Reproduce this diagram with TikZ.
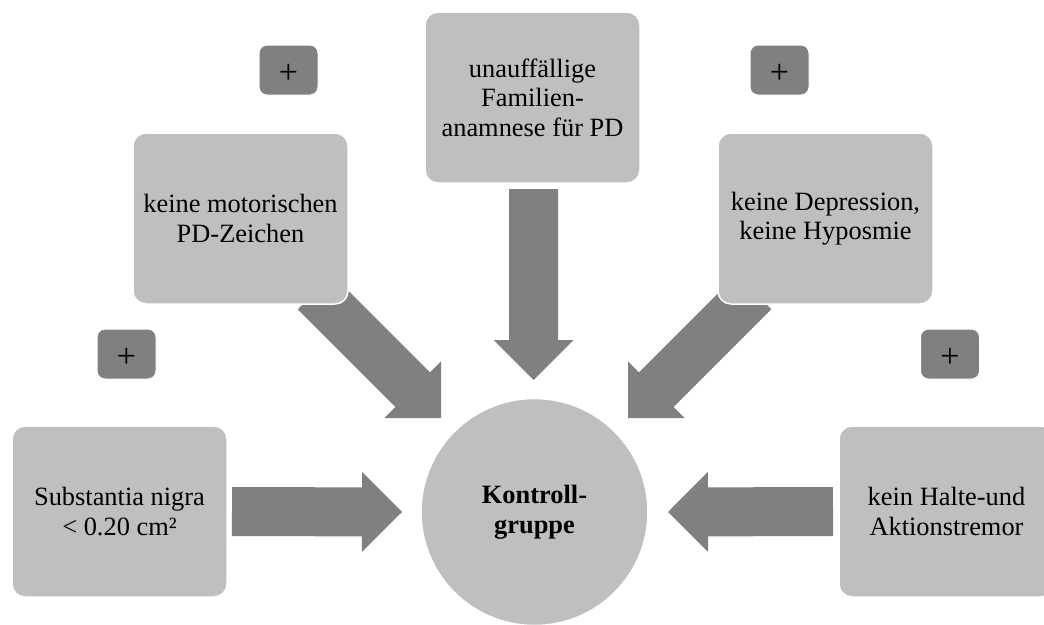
\documentclass[tikz,border=0pt]{standalone}
\usepackage{fontspec}
\setmainfont{Liberation Serif}
\usetikzlibrary{calc,backgrounds}

\definecolor{boxgray}{RGB}{191,191,191}
\definecolor{arrowgray}{RGB}{128,128,128}

\tikzset{
  crit/.style={rectangle, rounded corners=13pt, fill=boxgray, draw=white,
    line width=1.5pt, minimum width=215pt, minimum height=171pt,
    align=center, inner sep=0pt,
    font=\fontsize{26.4}{29.5}\selectfont},
  plusbox/.style={rectangle, rounded corners=8pt, fill=arrowgray, draw=white,
    line width=1pt, minimum width=59pt, minimum height=50pt, inner sep=0pt,
    font=\fontsize{34}{36}\selectfont},
  hub/.style={circle, fill=boxgray, draw=white, line width=1.5pt,
    minimum size=227pt, align=center, inner sep=0pt,
    font=\fontsize{26.4}{29.5}\selectfont\bfseries},
  blockarrow/.style={fill=arrowgray}
}

% Thick block arrow from tail coordinate #1 to tip coordinate #2
\newcommand\drawblockarrow[2]{%
  \path ($(#2)!40pt!(#1)$) coordinate (neck);
  \fill[blockarrow]
    ($(#1)!24.5pt!90:(#2)$) --
    ($(neck)!24.5pt!-90:(#1)$) --
    ($(neck)!40pt!-90:(#1)$) --
    (#2) --
    ($(neck)!40pt!90:(#1)$) --
    ($(neck)!24.5pt!90:(#1)$) --
    ($(#1)!24.5pt!-90:(#2)$) -- cycle;
}
% plus sign set slightly below the box centre
\newcommand\plussign{\raisebox{-13.5pt}[0pt][0pt]{+}}

\begin{document}
\begin{tikzpicture}[x=1pt,y=-1pt]
  \useasboundingbox (0,0) rectangle (1044,624);
  \clip (0,0) rectangle (1044,624);

  % centre and criteria
  \node[hub] (hub) at (534.5,512) {Kontroll-\\gruppe};
  \node[crit] (fam) at (532.5,97.5) {unauffällige\\Familien-\\anamnese für PD};
  \node[crit] (motor) at (240.5,218.5) {keine motorischen\\PD-Zeichen};
  \node[crit] (depr) at (825.5,218.5) {keine Depression,\\keine Hyposmie};
  \node[crit] (snig) at (119.5,511.5) {Substantia nigra\\< 0.20 cm²};
  \node[crit] (tremor) at (946.5,511.5) {kein Halte-und\\Aktionstremor};

  % plus signs between the criteria
  \node[plusbox] (p1) at (288.5,70) {\plussign};
  \node[plusbox] (p2) at (779.5,70) {\plussign};
  \node[plusbox] (p3) at (126.5,354) {\plussign};
  \node[plusbox] (p4) at (950,354) {\plussign};

  % arrow ends
  \coordinate (snigT) at ($(snig.center)+(112.5,0)$);
  \coordinate (snigH) at ($(hub.center)+(-132.5,0)$);
  \coordinate (tremT) at ($(tremor.center)+(-113.5,0)$);
  \coordinate (tremH) at ($(hub.center)+(133.5,0)$);
  \coordinate (famT) at ($(fam.center)+(1,91.5)$);
  \coordinate (famH) at ($(hub.center)+(-1,-132)$);
  \coordinate (motT) at ($(motor.center)+(74.5,73.5)$);
  \coordinate (motH) at ($(hub.center)+(-93.5,-94)$);
  \coordinate (depT) at ($(depr.center)+(-71.5,73.5)$);
  \coordinate (depH) at ($(hub.center)+(93.5,-94)$);

  \begin{scope}[on background layer]
    \drawblockarrow{snigT}{snigH}
    \drawblockarrow{tremT}{tremH}
    \drawblockarrow{famT}{famH}
    \drawblockarrow{motT}{motH}
    \drawblockarrow{depT}{depH}
  \end{scope}
\end{tikzpicture}
\end{document}
